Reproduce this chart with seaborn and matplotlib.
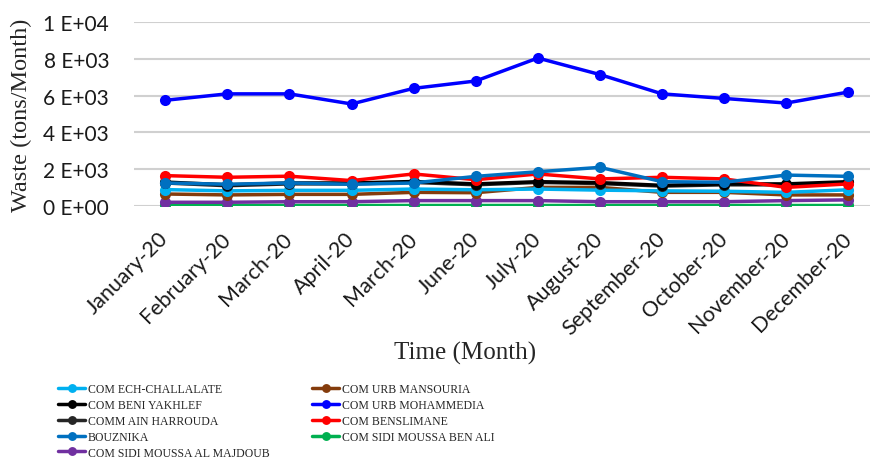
import numpy as np
import matplotlib
matplotlib.use("Agg")
import matplotlib.pyplot as plt
import seaborn as sns

months = ["January-20", "February-20", "March-20", "April-20", "March-20", "June-20",
          "July-20", "August-20", "September-20", "October-20", "November-20", "December-20"]

ech_challalate = [890, 820, 850, 850, 920, 880, 920, 860, 820, 800, 740, 880]
beni_yakhlef = [1300, 1150, 1250, 1250, 1330, 1200, 1320, 1270, 1120, 1200, 1200, 1320]
ain_harrouda = [1250, 1100, 1200, 1200, 1280, 1150, 1280, 1220, 1080, 1150, 1150, 1280]
bouznika = [1250, 1180, 1250, 1180, 1250, 1610, 1860, 2100, 1320, 1290, 1680, 1610]
sidi_moussa_majdoub = [200, 200, 230, 230, 290, 290, 290, 230, 230, 230, 290, 330]
urb_mansouria = [650, 600, 630, 630, 740, 720, 1010, 1010, 740, 740, 600, 600]
urb_mohammedia = [5750, 6100, 6100, 5550, 6400, 6800, 8050, 7150, 6100, 5850, 5600, 6200]
benslimane = [1650, 1560, 1620, 1380, 1740, 1430, 1740, 1470, 1560, 1470, 1010, 1200]
sidi_moussa_ben_ali = [30, 30, 30, 30, 30, 30, 30, 30, 30, 30, 30, 30]

series = [
    ("COM ECH-CHALLALATE", ech_challalate, "#00B0F0"),
    ("COM BENI YAKHLEF", beni_yakhlef, "#000000"),
    ("COMM AIN HARROUDA", ain_harrouda, "#262626"),
    ("BOUZNIKA", bouznika, "#0070C0"),
    ("COM SIDI MOUSSA AL MAJDOUB", sidi_moussa_majdoub, "#7030A0"),
    ("COM URB MANSOURIA", urb_mansouria, "#843C0C"),
    ("COM URB MOHAMMEDIA", urb_mohammedia, "#0000FF"),
    ("COM BENSLIMANE", benslimane, "#FF0000"),
    ("COM SIDI MOUSSA BEN ALI", sidi_moussa_ben_ali, "#00B050"),
]
# drawing order (last on top), as in the original chart
draw_order = [8, 4, 5, 0, 2, 1, 7, 3, 6]

y_ticks = [0, 2000, 4000, 6000, 8000, 10000]
y_labels = ["0 E+00", "2 E+03", "4 E+03", "6 E+03", "8 E+03", "1 E+04"]

sns.set_style("white")
fig = plt.figure(figsize=(8.71, 4.64), dpi=100)
ax = fig.add_axes([0.154, 0.554, 0.845, 0.396])

pos = np.arange(len(months))
lines = {}
for i in draw_order:
    name, vals, col = series[i]
    sns.lineplot(x=pos, y=vals, ax=ax, color=col, lw=2.5, marker="o",
                 markersize=8, markeredgewidth=0, label=name)
    lines[name] = ax.get_lines()[-1]

ax.set_xlim(-0.5, 11.35)
ax.set_ylim(0, 10000)
ax.set_yticks(y_ticks)
ax.set_yticklabels(y_labels, fontsize=15, family="Lato", color="#1a1a1a")
ax.set_xticks(pos)
ax.set_xticklabels(months, rotation=45, ha="right", va="center",
                   rotation_mode="anchor", fontsize=15.5, family="Lato",
                   color="#1a1a1a")
ax.tick_params(axis="y", length=0, pad=18)
ax.tick_params(axis="x", length=0, pad=21)
ax.yaxis.grid(True, color="#d0d0d0", lw=1.5)
ax.set_axisbelow(True)
for s in ax.spines.values():
    s.set_visible(False)

ax.set_ylabel("Waste (tons/Month)", fontsize=17.5, family="Liberation Serif")
ax.yaxis.set_label_coords(-0.139, 0.5)
ax.set_xlabel("Time (Month)", fontsize=18, family="Liberation Serif")
ax.xaxis.set_label_coords(0.45, -0.734)

ax.get_legend().remove()
names = [s[0] for s in series]
handles = [lines[n] for n in names]
leg_kw = dict(loc="upper left", frameon=False,
              prop={"family": "Liberation Serif", "size": 8.5},
              handlelength=2.3, handletextpad=0.2, labelspacing=0.33,
              borderaxespad=0, borderpad=0, markerscale=0.8)
fig.legend(handles[:5], names[:5], bbox_to_anchor=(58 / 871, 1 - 384 / 464), **leg_kw)
fig.legend(handles[5:], names[5:], bbox_to_anchor=(312 / 871, 1 - 384 / 464), **leg_kw)

fig.savefig("out.png", dpi=100)
